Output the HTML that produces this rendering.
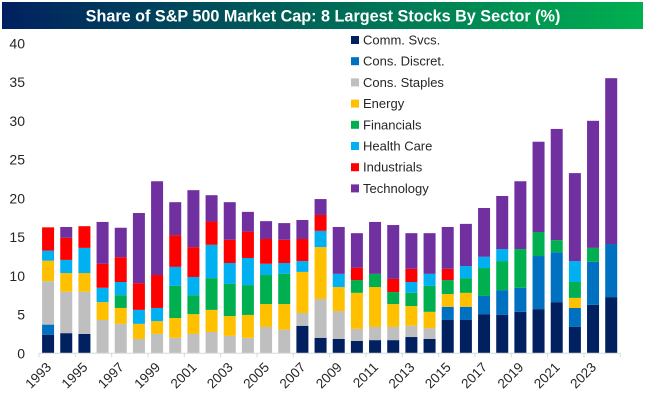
<!DOCTYPE html>
<html lang="en">
<head>
<meta charset="utf-8">
<title>Share of S&amp;P 500 Market Cap: 8 Largest Stocks By Sector (%)</title>
<style>
html,body{margin:0;padding:0;background:#fff;width:645px;height:403px;overflow:hidden}
svg{display:block;font-family:"Liberation Sans",sans-serif}
</style>
</head>
<body>
<svg id="chart" xmlns="http://www.w3.org/2000/svg" width="645" height="403" viewBox="0 0 645 403">
  <defs>
    <linearGradient id="bannerGradient" x1="0" y1="0" x2="1" y2="0">
      <stop offset="0" stop-color="#002060"/>
      <stop offset="1" stop-color="#00B050"/>
    </linearGradient>
  </defs>
  <rect x="2" y="2" width="641" height="27" fill="url(#bannerGradient)"/>
  <text x="323" y="21.5" text-anchor="middle" fill="#fff" font-size="16.2" font-weight="700">Share of S&amp;P 500 Market Cap: 8 Largest Stocks By Sector (%)</text>
  <g id="bars"></g>
  <g id="axes"></g>
  <g id="legend"></g>
</svg>
<script>
var years = [1993,1994,1995,1996,1997,1998,1999,2000,2001,2002,2003,2004,2005,2006,2007,2008,2009,2010,2011,2012,2013,2014,2015,2016,2017,2018,2019,2020,2021,2022,2023,2024];
var seriesNames = ["Comm. Svcs.","Cons. Discret.","Cons. Staples","Energy","Financials","Health Care","Industrials","Technology"];
var seriesColors = ["#002060","#0070C0","#BFBFBF","#FFC000","#00B050","#00B0F0","#FF0000","#7030A0"];
var yTicks = [0,5,10,15,20,25,30,35,40];

var commSvcs    = [2.4,2.6,2.5,0,0,0,0,0,0,0,0,0,0,0,3.55,2.0,1.85,1.6,1.7,1.7,2.1,1.85,4.3,4.3,5.05,4.95,5.35,5.7,6.6,3.4,6.25,7.25];
var consDiscret = [1.3,0,0,0,0,0,0,0,0,0,0,0,0,0,0,0,0,0,0,0,0,0,1.7,1.7,2.35,3.2,3.1,6.85,6.45,2.45,5.55,6.85];
var consStaples = [5.6,5.35,5.45,4.3,3.8,1.85,2.5,2.0,2.5,2.75,2.25,2.0,3.4,3.05,1.65,5.0,3.6,1.55,1.7,1.7,1.45,1.4,0,0,0,0,0,0,0,0,0,0];
var energy      = [2.65,2.4,2.4,2.3,2.05,1.95,1.65,2.55,2.55,2.85,2.55,2.95,2.95,3.3,5.3,6.7,3.1,4.65,5.15,2.95,2.55,2.1,1.65,1.8,0,0,0,0,0,1.3,0,0];
var financials  = [0,0,0,0,1.65,0,0,4.15,2.45,4.1,4.15,3.85,3.75,3.9,0,0,0,1.65,1.7,1.55,1.7,3.35,1.8,1.9,3.6,3.75,5.0,3.1,1.55,2.05,1.8,0];
var healthCare  = [1.3,1.7,3.25,1.85,1.7,1.8,1.7,2.45,2.35,4.3,2.7,3.5,1.45,1.4,1.4,2.1,1.7,0,0,0,1.4,1.55,0,1.55,1.45,1.55,0,0,0,2.7,0,0];
var industrials = [3.0,2.85,2.8,3.1,3.2,3.45,4.25,4.1,3.85,3.0,3.0,3.4,3.2,3.0,2.85,2.05,0,1.6,0,1.7,1.7,0,1.45,0,0,0,0,0,0,0,0,0];
var technology  = [0,1.4,0,5.4,3.8,9.05,12.1,4.25,7.35,3.4,4.85,2.55,2.3,2.15,2.45,2.05,6.05,4.45,6.7,6.95,4.6,5.25,5.4,5.45,6.3,6.85,8.75,11.65,14.35,11.35,16.4,21.4];

var seriesValues = [commSvcs,consDiscret,consStaples,energy,financials,healthCare,industrials,technology];

var NS = "http://www.w3.org/2000/svg";
var plotLeft = 39, plotRight = 620.3, plotBottom = 353.3, plotTop = 43.3, yMax = 40;
var barWidth = 12;

function xBand(i){ return (plotRight - plotLeft) / years.length * i + plotLeft; }
function xCenter(i){ return xBand(i + 0.5); }
function yScale(v){ return plotBottom - (plotBottom - plotTop) * v / yMax; }

function make(tag, attrs, parent, text){
  var el = document.createElementNS(NS, tag);
  for (var k in attrs) el.setAttribute(k, attrs[k]);
  if (text !== undefined) el.textContent = text;
  parent.appendChild(el);
  return el;
}

var barsLayer = document.getElementById("bars");
var axesLayer = document.getElementById("axes");
var legendLayer = document.getElementById("legend");

years.forEach(function(year, i){
  var base = 0;
  seriesValues.forEach(function(values, s){
    var v = values[i];
    if (v > 0) {
      var y1 = yScale(base + v), y0 = yScale(base);
      var bar = make("rect", {x: xCenter(i) - barWidth / 2, y: y1, width: barWidth, height: y0 - y1, fill: seriesColors[s]}, barsLayer);
      
      
    }
    base += v;
  });
});

yTicks.forEach(function(t){
  var label = make("text", {x: 25, y: yScale(t) + 5, "text-anchor": "end", "font-size": 14, fill: "#262626"}, axesLayer, String(t));
  
  
});

var axisLine = make("line", {x1: plotLeft, x2: plotRight, y1: plotBottom, y2: plotBottom, stroke: "#D9D9D9", "stroke-width": 1}, axesLayer);



for (var b = 0; b <= years.length; b += 2) {
  var tx = xBand(b);
  var tick = make("line", {x1: tx, x2: tx, y1: plotBottom, y2: plotBottom + 4, stroke: "#D9D9D9", "stroke-width": 1}, axesLayer);
  
  
}

years.forEach(function(year, i){
  if (i % 2 !== 0) return;
  var ax = xCenter(i) + 4, ay = 368;
  var label = make("text", {x: ax, y: ay, "text-anchor": "end", "font-size": 13.5, fill: "#262626", transform: "rotate(-45 " + ax + " " + ay + ")"}, axesLayer, String(year));
  
  
});

seriesNames.forEach(function(name, s){
  var cy = 40 + s * 21.2;
  var swatch = make("rect", {x: 351, y: cy - 4, width: 8, height: 8, fill: seriesColors[s]}, legendLayer);
  
  
  var entry = make("text", {x: 363, y: cy + 4.5, "font-size": 13, fill: "#262626"}, legendLayer, name);
  
  
});
</script>
</body>
</html>
